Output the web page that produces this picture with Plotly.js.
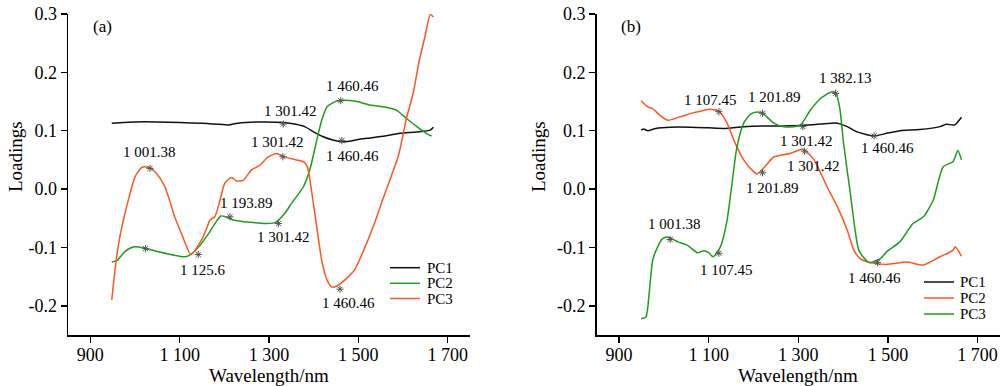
<!DOCTYPE html>
<html>
<head>
<meta charset="utf-8">
<script src="https://cdn.plot.ly/plotly-3.0.1.min.js"></script>
<style>html,body{margin:0;padding:0;background:#fff;}#chart{width:1000px;height:386px;}</style>
</head>
<body>
<div id="chart"></div>
<script>
// ---------- data: panel (a) ----------
const a_pc1_x = [948, 975, 1000, 1050, 1100, 1150, 1190, 1209, 1230, 1280, 1332, 1360, 1380, 1400, 1420, 1443, 1463, 1480, 1500, 1519, 1560, 1593, 1630, 1661, 1668];
const a_pc1_y = [0.113, 0.114, 0.115, 0.115, 0.114, 0.113, 0.111, 0.110, 0.113, 0.115, 0.114, 0.111, 0.107, 0.098, 0.090, 0.084, 0.081, 0.082, 0.085, 0.087, 0.091, 0.0955, 0.098, 0.101, 0.106];

const a_pc2_x = [948, 960, 977, 990, 1001, 1020, 1050, 1080, 1112, 1125, 1146, 1165, 1180, 1192, 1205, 1220, 1258, 1295, 1315, 1335, 1350, 1377, 1392, 1407, 1418, 1430, 1452, 1463, 1497, 1526, 1556, 1586, 1608, 1631, 1653, 1664];
const a_pc2_y = [-0.125, -0.122, -0.1075, -0.101, -0.099, -0.101, -0.107, -0.112, -0.116, -0.112, -0.096, -0.076, -0.058, -0.046, -0.048, -0.053, -0.057, -0.059, -0.057, -0.042, -0.025, 0.004, 0.035, 0.084, 0.118, 0.141, 0.151, 0.152, 0.150, 0.144, 0.141, 0.135, 0.121, 0.107, 0.095, 0.091];

const a_pc3_x = [948, 955, 963, 975, 985, 1000, 1015, 1025, 1037, 1048, 1067, 1090, 1104, 1125, 1149, 1160, 1168, 1179, 1190, 1201, 1216, 1227, 1242, 1261, 1280, 1298, 1317, 1332, 1355, 1377, 1386, 1396, 1407, 1418, 1430, 1441, 1452, 1478, 1492, 1512, 1533, 1556, 1590, 1608, 1623, 1635, 1649, 1661, 1668];
const a_pc3_y = [-0.190, -0.14, -0.095, -0.05, -0.019, 0.021, 0.037, 0.038, 0.035, 0.027, 0.004, -0.050, -0.076, -0.112, -0.087, -0.068, -0.053, -0.047, -0.02, 0.010, 0.020, 0.014, 0.015, 0.033, 0.041, 0.055, 0.061, 0.056, 0.051, 0.047, 0.038, -0.007, -0.065, -0.122, -0.156, -0.168, -0.166, -0.150, -0.138, -0.105, -0.065, -0.015, 0.058, 0.122, 0.165, 0.215, 0.261, 0.299, 0.295];

const a_mark_x = [1033.5, 1023.7, 1141.6, 1212.5, 1321, 1331, 1332, 1460.6, 1463, 1459];
const a_mark_y = [0.0355, -0.102, -0.112, -0.0475, -0.059, 0.0555, 0.1115, 0.1515, 0.083, -0.1715];

const a_label_text = ['1 001.38', '1 125.6', '1 193.89', '1 301.42', '1 301.42', '1 301.42', '1 460.46', '1 460.46', '1 460.46'];
const a_label_x = [1033.5, 1152.8, 1249.6, 1332.4, 1319.9, 1347.4, 1486.8, 1486.8, 1477.8];
const a_label_y = [0.064, -0.139, -0.0235, -0.0818, 0.0811, 0.134, 0.1767, 0.0566, -0.196];

// ---------- data: panel (b) ----------
const b_pc1_x = [949, 955, 964, 982, 1015, 1060, 1100, 1134, 1178, 1222, 1267, 1305, 1350, 1387, 1409, 1431, 1468, 1497, 1527, 1571, 1616, 1630, 1649, 1664];
const b_pc1_y = [0.101, 0.103, 0.100, 0.104, 0.106, 0.106, 0.105, 0.104, 0.107, 0.108, 0.108, 0.109, 0.1115, 0.113, 0.107, 0.098, 0.091, 0.0955, 0.100, 0.102, 0.107, 0.111, 0.110, 0.123];

const b_pc2_x = [949, 964, 975, 990, 1008, 1037, 1067, 1104, 1123, 1141, 1156, 1178, 1200, 1208, 1222, 1245, 1281, 1311, 1335, 1364, 1387, 1409, 1424, 1438, 1460, 1497, 1542, 1579, 1616, 1645, 1650, 1664];
const b_pc2_y = [0.1515, 0.141, 0.138, 0.127, 0.118, 0.124, 0.131, 0.137, 0.133, 0.113, 0.084, 0.050, 0.030, 0.026, 0.0355, 0.055, 0.061, 0.068, 0.050, 0.004, -0.030, -0.070, -0.105, -0.119, -0.126, -0.129, -0.125, -0.130, -0.116, -0.105, -0.099, -0.115];

const b_pc3_x = [949, 960, 967, 975, 986, 997, 1008, 1030, 1052, 1075, 1089, 1100, 1110, 1126, 1141, 1152, 1163, 1178, 1193, 1208, 1222, 1245, 1267, 1290, 1305, 1327, 1350, 1372, 1383, 1392, 1401, 1416, 1435, 1453, 1460, 1483, 1497, 1527, 1556, 1579, 1601, 1623, 1645, 1656, 1664];
const b_pc3_y = [-0.222, -0.219, -0.179, -0.122, -0.099, -0.085, -0.082, -0.090, -0.096, -0.109, -0.1055, -0.109, -0.116, -0.099, -0.053, 0.010, 0.0725, 0.113, 0.128, 0.132, 0.129, 0.113, 0.107, 0.107, 0.110, 0.1355, 0.1556, 0.166, 0.165, 0.141, 0.078, -0.007, -0.105, -0.1235, -0.126, -0.119, -0.1075, -0.090, -0.059, -0.0475, -0.019, 0.038, 0.047, 0.066, 0.050];

const b_mark_x = [1122.7, 1220, 1220, 1310, 1314, 1383, 1469, 1476.6, 1014, 1122.7];
const b_mark_y = [0.1326, 0.130, 0.028, 0.107, 0.065, 0.164, 0.091, -0.126, -0.0863, -0.110];

const b_label_text = ['1 107.45', '1 201.89', '1 201.89', '1 301.42', '1 301.42', '1 382.13', '1 460.46', '1 460.46', '1 001.38', '1 107.45'];
const b_label_x = [1104, 1246, 1242.4, 1318.5, 1334.7, 1405, 1498.8, 1469.3, 1024.2, 1139.5];
const b_label_y = [0.1527, 0.1573, 0.0012, 0.0823, 0.040, 0.190, 0.0698, -0.153, -0.0606, -0.139];

// ---------- axes ticks ----------
const xTickVals = [900, 1100, 1300, 1500, 1700];
const xTickText = ['900', '1 100', '1 300', '1 500', '1 700'];
const yTickVals = [-0.2, -0.1, 0, 0.1, 0.2, 0.3];
const yTickText = ['-0.2', '-0.1', '0.0', '0.1', '0.2', '0.3'];
const seriesNames = ['PC1', 'PC2', 'PC3'];
const panelNames = ['(a)', '(b)'];
const xTitle = 'Wavelength/nm';
const yTitle = 'Loadings';

// ---------- styles ----------
const FONT = '"Liberation Serif", "Times New Roman", Times, serif';
const BLACK = '#111111', GREEN = '#1c9e1c', ORANGE = '#ff5522';
const colorsA = [BLACK, GREEN, ORANGE];
const colorsB = [BLACK, ORANGE, GREEN];

function line(x, y, name, color, xa, ya) {
  return {x: x, y: y, name: name, type: 'scatter', mode: 'lines', xaxis: xa, yaxis: ya,
    line: {color: color, width: 1.5, shape: 'spline', smoothing: 0.6}, showlegend: false, hoverinfo: 'skip'};
}
function marks(x, y, xa, ya) {
  return {x: x, y: y, type: 'scatter', mode: 'markers', xaxis: xa, yaxis: ya, showlegend: false,
    marker: {symbol: 'asterisk-open', size: 6, color: '#555', line: {color: '#555', width: 1}}, hoverinfo: 'skip'};
}

const traces = [
  line(a_pc1_x, a_pc1_y, seriesNames[0], colorsA[0], 'x', 'y'),
  line(a_pc2_x, a_pc2_y, seriesNames[1], colorsA[1], 'x', 'y'),
  line(a_pc3_x, a_pc3_y, seriesNames[2], colorsA[2], 'x', 'y'),
  marks(a_mark_x, a_mark_y, 'x', 'y'),
  line(b_pc1_x, b_pc1_y, seriesNames[0], colorsB[0], 'x2', 'y2'),
  line(b_pc2_x, b_pc2_y, seriesNames[1], colorsB[1], 'x2', 'y2'),
  line(b_pc3_x, b_pc3_y, seriesNames[2], colorsB[2], 'x2', 'y2'),
  marks(b_mark_x, b_mark_y, 'x2', 'y2')
];

function xAxis(domain, anchor) {
  return {domain: domain, anchor: anchor, range: [850, 1750], tickmode: 'array', tickvals: xTickVals, ticktext: xTickText,
    ticks: 'outside', ticklen: 6, tickwidth: 1.5, tickcolor: '#000', showline: true, linewidth: 1.5, linecolor: '#000',
    ticklabelstandoff: -3,
    showgrid: false, zeroline: false, tickfont: {family: FONT, size: 18, color: '#000'}, automargin: false};
}
function yAxis(anchor) {
  return {domain: [0, 1], anchor: anchor, range: [-0.25, 0.3], tickmode: 'array', tickvals: yTickVals, ticktext: yTickText,
    ticks: 'outside', ticklen: 6, tickwidth: 1.5, tickcolor: '#000', showline: true, linewidth: 1.5, linecolor: '#000',
    showgrid: false, zeroline: false, tickfont: {family: FONT, size: 18, color: '#000'}, automargin: false};
}

const W = 1000, H = 386, T = 14, B = 51;
const PH = H - T - B;
const px = v => v / W;
const py = v => 1 - (v - T) / PH;

const annotations = [];
a_label_text.forEach((t, i) => annotations.push({text: t, x: a_label_x[i], y: a_label_y[i], xref: 'x', yref: 'y',
  xanchor: 'center', yanchor: 'middle', showarrow: false, font: {family: FONT, size: 15, color: '#000'}}));
b_label_text.forEach((t, i) => annotations.push({text: t, x: b_label_x[i], y: b_label_y[i], xref: 'x2', yref: 'y2',
  xanchor: 'center', yanchor: 'middle', showarrow: false, font: {family: FONT, size: 15, color: '#000'}}));
function paperText(t, xp, yp, size, extra) {
  annotations.push(Object.assign({text: t, x: px(xp), y: py(yp), xref: 'paper', yref: 'paper', xanchor: 'center', yanchor: 'middle',
    showarrow: false, font: {family: FONT, size: size, color: '#000'}}, extra || {}));
}
// panel tags
paperText(panelNames[0], 102, 26, 17);
paperText(panelNames[1], 631, 26, 17);
// axis titles
paperText(yTitle, 16, 157, 19, {textangle: -90});
paperText(yTitle, 539, 157, 19, {textangle: -90});
paperText(xTitle, 269, 375.5, 19);
paperText(xTitle, 798, 375.5, 19);

// hand-drawn legends
const shapes = [];
const legA = {x0: 390, x1: 420, tx: 425, rows: [267.7, 283.3, 298.5], colors: colorsA};
const legB = {x0: 924, x1: 954, tx: 958, rows: [282, 298, 314], colors: colorsB};
[legA, legB].forEach(L => {
  L.rows.forEach((r, i) => {
    shapes.push({type: 'line', xref: 'paper', yref: 'paper', x0: px(L.x0), x1: px(L.x1), y0: py(r), y1: py(r),
      line: {color: L.colors[i], width: 1.5}});
    annotations.push({text: seriesNames[i], x: px(L.tx), y: py(r), xref: 'paper', yref: 'paper', xanchor: 'left', yanchor: 'middle',
      showarrow: false, font: {family: FONT, size: 15, color: '#000'}});
  });
});

const layout = {
  width: W, height: H, margin: {l: 0, r: 0, t: T, b: B, pad: 0},
  paper_bgcolor: '#fff', plot_bgcolor: '#fff', showlegend: false,
  xaxis: xAxis([0.068, 0.470], 'y'), yaxis: yAxis('x'),
  xaxis2: xAxis([0.5967, 1.0], 'y2'), yaxis2: yAxis('x2'),
  annotations: annotations, shapes: shapes
};

Plotly.newPlot('chart', traces, layout, {staticPlot: true, displayModeBar: false});
</script>
</body>
</html>
